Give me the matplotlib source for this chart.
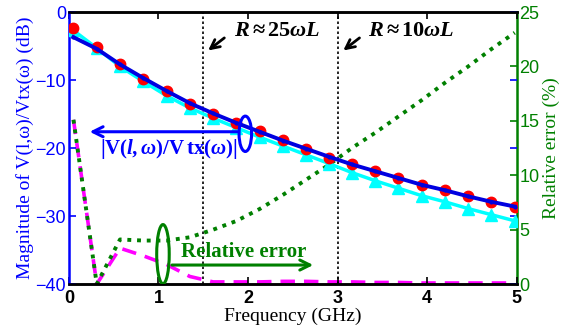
import matplotlib
matplotlib.use("Agg")
import matplotlib.pyplot as plt
from matplotlib.patches import Ellipse

# ---- data ----
freq = [0.05, 0.31, 0.57, 0.83, 1.09, 1.35, 1.61, 1.87, 2.13, 2.39,
        2.65, 2.91, 3.16, 3.42, 3.68, 3.94, 4.20, 4.46, 4.72, 4.98]

mag_ref = [-2.4, -5.2, -7.6, -9.8, -11.6, -13.5, -15.0, -16.3, -17.5, -18.8,
           -20.1, -21.4, -22.4, -23.4, -24.4, -25.4, -26.2, -27.1, -27.9, -28.6]
mag_model = [-3.7, -5.4, -7.7, -9.7, -11.6, -13.4, -14.9, -16.3, -17.6, -18.9,
             -20.1, -21.3, -22.4, -23.4, -24.4, -25.4, -26.2, -27.1, -27.9, -28.6]
mag_approx = [-2.7, -5.3, -8.0, -10.2, -12.3, -14.1, -15.6, -17.0, -18.4, -19.7,
              -21.0, -22.3, -23.6, -24.8, -25.9, -27.0, -27.9, -28.9, -29.8, -30.7]

err_approx = [15.1, 0.0, 4.1, 4.0, 4.0, 4.3, 5.0, 5.8, 6.9, 8.2,
              9.6, 11.0, 12.5, 13.9, 15.4, 16.9, 18.5, 20.0, 21.6, 23.1]
err_model = [15.1, 0.0, 3.3, 2.6, 1.8, 0.7, 0.2, 0.2, 0.2, 0.25,
             0.25, 0.2, 0.2, 0.15, 0.15, 0.1, 0.1, 0.1, 0.1, 0.1]

mag_ticks = [-40, -30, -20, -10, 0]
err_ticks = [0, 5, 10, 15, 20, 25]
f_ticks = [0, 1, 2, 3, 4, 5]
marker_lines = [1.5, 3.0]

# ---- fonts ----
plt.rcParams['font.family'] = ['Liberation Sans', 'DejaVu Sans']
plt.rcParams['mathtext.fontset'] = 'custom'
plt.rcParams['mathtext.rm'] = 'Liberation Serif'
plt.rcParams['mathtext.it'] = 'Liberation Serif:italic'
plt.rcParams['mathtext.bf'] = 'Liberation Serif:bold'
plt.rcParams['mathtext.bfit'] = 'Liberation Serif:italic:bold'
serif = ['Liberation Serif', 'DejaVu Serif']

BLUE = '#0000ff'
GREEN = '#008000'

fig = plt.figure(figsize=(5.72, 3.35), dpi=100)
ax1 = fig.add_axes([0.1206, 0.152, 0.7824, 0.812])
ax2 = ax1.twinx()
ax1.set_zorder(ax2.get_zorder() + 1)
ax1.patch.set_visible(False)

# ---- relative error (right axis) ----
ax2.plot(freq, err_model, color='magenta', ls=(0, (4, 2.5)), lw=2.6)
ax2.plot(freq, err_approx, color=GREEN, ls=(0, (1, 1.5)), lw=2.8)
ax2.set_ylim(0, 25)
ax2.set_yticks(err_ticks)
ax2.tick_params(axis='y', colors=GREEN, direction='in', labelsize=13, length=5, width=1.2, pad=2)
ax2.set_ylabel("Relative error (%)", color=GREEN, fontsize=14, family=serif, labelpad=2)

# ---- magnitude (left axis) ----
ax1.plot(freq, mag_approx, color='cyan', lw=2.5, marker='^', ms=9, zorder=3)
ax1.plot(freq, mag_ref, color='red', ls='none', marker='o', ms=7.5, zorder=4)
ax1.plot(freq, mag_model, color='#0000e0', lw=2.8, marker='.', ms=4, zorder=5)

for xv in marker_lines:
    ax1.axvline(xv, color='black', ls=(0, (1.5, 1.5)), lw=1.2, zorder=2)

ax1.set_xlim(0, 5)
ax1.set_ylim(-40, 0)
ax1.set_xticks(f_ticks)
ax1.set_yticks(mag_ticks)
ax1.tick_params(axis='y', colors=BLUE, direction='in', labelsize=13, length=5, width=1.2, right=True, pad=2)
ax1.tick_params(axis='x', colors='black', direction='in', labelsize=13, length=5, width=1.2, top=True, pad=4)
for lbl in ax1.get_xticklabels():
    lbl.set_fontweight('bold')
ax2.tick_params(axis='x', top=False, bottom=False)
ax1.set_xlabel("Frequency (GHz)", fontsize=14, family=serif, labelpad=1)
ax1.set_ylabel("Magnitude of V(l,\u03c9)/Vtx(\u03c9) (dB)", color=BLUE, fontsize=14,
               family=serif, labelpad=1)

for ax in (ax1, ax2):
    for s in ax.spines.values():
        s.set_linewidth(1.8)
ax1.spines['left'].set_color(BLUE)
ax1.spines['right'].set_visible(False)
ax2.spines['left'].set_visible(False)
ax2.spines['right'].set_color(GREEN)

# ---- annotations ----
ax1.text(2.33, -2.7, r'$\mathbfit{R}\mathbf{\approx 25}\mathbfit{\omega L}$',
         fontsize=16, ha='center', va='center')
ax1.text(3.82, -2.7, r'$\mathbfit{R}\mathbf{\approx 10}\mathbfit{\omega L}$',
         fontsize=16, ha='center', va='center')
arrow_k = dict(arrowstyle='->', color='black', lw=2, mutation_scale=16)
ax1.annotate('', xy=(1.53, -5.9), xytext=(1.76, -3.55), arrowprops=arrow_k)
ax1.annotate('', xy=(3.04, -5.9), xytext=(3.27, -3.55), arrowprops=arrow_k)

ax1.add_patch(Ellipse((1.97, -17.9), 0.14, 5.2, fill=False, ec=BLUE, lw=2.2, zorder=6))
ax1.annotate('', xy=(0.2, -17.6), xytext=(1.91, -17.6),
             arrowprops=dict(arrowstyle='->', color=BLUE, lw=2.2, mutation_scale=18))
ax1.text(1.11, -20.1, r'$\mathbf{|V(}\mathbfit{l,\omega}\mathbf{)/V\,tx(}\mathbfit{\omega}\mathbf{)|}$',
         color=BLUE, fontsize=15, ha='center', va='center')

ax1.add_patch(Ellipse((1.05, -35.6), 0.14, 8.7, fill=False, ec=GREEN, lw=2.2, zorder=6))
ax1.annotate('', xy=(2.76, -37.2), xytext=(1.12, -37.2),
             arrowprops=dict(arrowstyle='->', color=GREEN, lw=2.2, mutation_scale=18))
ax1.text(1.95, -35.3, "Relative error", color=GREEN, fontsize=15, family=serif,
         weight='bold', ha='center', va='center')

fig.savefig("out.png", dpi=100)
